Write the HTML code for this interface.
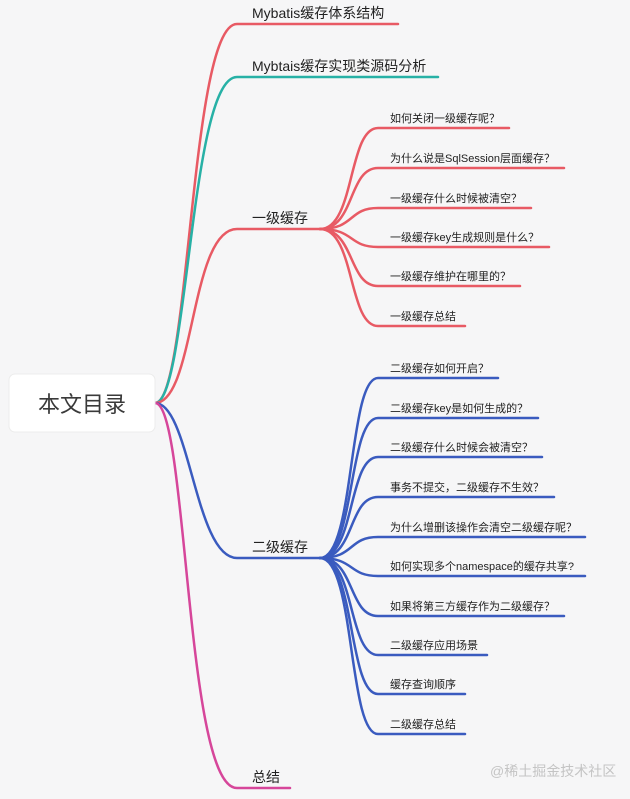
<!DOCTYPE html>
<html><head><meta charset="utf-8"><style>
html,body{margin:0;padding:0;background:#f6f6f7;}
svg{display:block;}
text{font-family:"Liberation Sans","Noto Sans CJK SC",sans-serif;fill:#222;}
</style></head><body>
<svg width="630" height="799" viewBox="0 0 630 799" xmlns="http://www.w3.org/2000/svg">
<rect width="630" height="799" fill="#f6f6f7"/>
<g fill="none" stroke-width="2.5" stroke-linecap="round">
<path d="M155,403 C190,403 190,24 237,24 L398,24" stroke="#e85a64"/>
<path d="M155,403 C188,403 190,77 237,77 L438,77" stroke="#27b1a6"/>
<path d="M155,403 C195,403 190,229 237,229 L320,229" stroke="#e85a64"/>
<path d="M155,403 C190,403 195,558 237,558 L320,558" stroke="#3a5bbf"/>
<path d="M155,403 C188,403 185,788 237,788 L290,788" stroke="#d6469a"/>
<g stroke="#e85a64">
<path d="M320,229 C355,229 348,128 378,128 L509,128"/>
<path d="M320,229 C355,229 348,168 378,168 L564,168"/>
<path d="M320,229 C355,229 348,208 378,208 L531,208"/>
<path d="M320,229 C355,229 348,247 378,247 L549,247"/>
<path d="M320,229 C355,229 348,286 378,286 L520,286"/>
<path d="M320,229 C355,229 348,326 378,326 L465,326"/>
</g>
<g stroke="#3a5bbf">
<path d="M320,558 C355,558 348,378 378,378 L498,378"/>
<path d="M320,558 C355,558 348,418 378,418 L538,418"/>
<path d="M320,558 C355,558 348,457 378,457 L542,457"/>
<path d="M320,558 C355,558 348,497 378,497 L554,497"/>
<path d="M320,558 C355,558 348,537 378,537 L585,537"/>
<path d="M320,558 C355,558 348,576 378,576 L585,576"/>
<path d="M320,558 C355,558 348,616 378,616 L564,616"/>
<path d="M320,558 C355,558 348,655 378,655 L487,655"/>
<path d="M320,558 C355,558 348,694 378,694 L465,694"/>
<path d="M320,558 C355,558 348,734 378,734 L465,734"/>
</g>
</g>
<rect x="9" y="374" width="146" height="58" rx="6" fill="#fff" stroke="#ececec"/>
<text x="82" y="412" font-size="22" text-anchor="middle" style="fill:#3a3a3a">本文目录</text>
<g font-size="14">
<text x="252" y="18">Mybatis缓存体系结构</text>
<text x="252" y="71">Mybtais缓存实现类源码分析</text>
<text x="252" y="223">一级缓存</text>
<text x="252" y="552">二级缓存</text>
<text x="252" y="782">总结</text>
</g>
<g font-size="11">
<text x="390" y="122">如何关闭一级缓存呢？</text>
<text x="390" y="162">为什么说是SqlSession层面缓存？</text>
<text x="390" y="202">一级缓存什么时候被清空？</text>
<text x="390" y="241">一级缓存key生成规则是什么？</text>
<text x="390" y="280">一级缓存维护在哪里的？</text>
<text x="390" y="320">一级缓存总结</text>
<text x="390" y="372">二级缓存如何开启？</text>
<text x="390" y="412">二级缓存key是如何生成的？</text>
<text x="390" y="451">二级缓存什么时候会被清空？</text>
<text x="390" y="491">事务不提交，二级缓存不生效？</text>
<text x="390" y="531">为什么增删该操作会清空二级缓存呢？</text>
<text x="390" y="570">如何实现多个namespace的缓存共享?</text>
<text x="390" y="610">如果将第三方缓存作为二级缓存？</text>
<text x="390" y="649">二级缓存应用场景</text>
<text x="390" y="688">缓存查询顺序</text>
<text x="390" y="728">二级缓存总结</text>
</g>
<text x="490" y="776" font-size="14" style="fill:#c4c4c4">@稀土掘金技术社区</text>
</svg>
</body></html>
